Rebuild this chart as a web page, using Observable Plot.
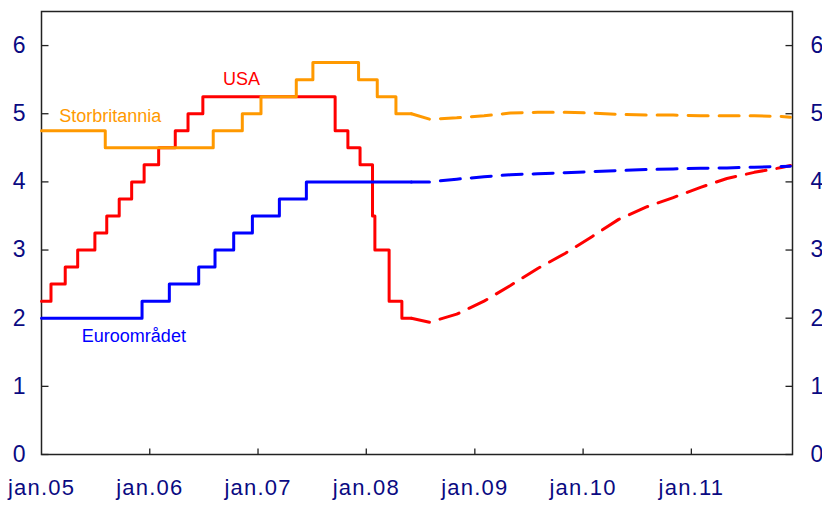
<!DOCTYPE html>
<html>
<head>
<meta charset="utf-8">
<script src="https://cdn.jsdelivr.net/npm/d3@7"></script>
<script src="https://cdn.jsdelivr.net/npm/@observablehq/plot@0.6"></script>
<style>
  html, body { margin: 0; padding: 0; background: #fff; }
  #chart svg { display: block; }
  #chart g[aria-label="x-axis tick label"] text { letter-spacing: 1.2px; }
</style>
</head>
<body>
<div id="chart"></div>
<script>
// ---- Data ----
const usaDates = ["2005-01-01","2005-02-02","2005-03-22","2005-05-03","2005-06-30","2005-08-09","2005-09-20","2005-11-01","2005-12-13","2006-01-31","2006-03-28","2006-05-10","2006-06-29","2007-09-18","2007-10-31","2007-12-11","2008-01-22","2008-01-30","2008-03-18","2008-04-30","2008-06-01"];
const usaRates = [2.25,2.5,2.75,3.0,3.25,3.5,3.75,4.0,4.25,4.5,4.75,5.0,5.25,4.75,4.5,4.25,3.5,3.0,2.25,2.0,2.0];

const ukDates = ["2005-01-01","2005-08-04","2006-08-03","2006-11-09","2007-01-11","2007-05-10","2007-07-05","2007-12-06","2008-02-07","2008-04-10","2008-06-01"];
const ukRates = [4.75,4.5,4.75,5.0,5.25,5.5,5.75,5.5,5.25,5.0,5.0];

const euroDates = ["2005-01-01","2005-12-06","2006-03-08","2006-06-15","2006-08-09","2006-10-11","2006-12-13","2007-03-14","2007-06-13","2008-06-01"];
const euroRates = [2.0,2.25,2.5,2.75,3.0,3.25,3.5,3.75,4.0,4.0];

const forecastDates = ["2008-08-01","2008-11-01","2009-02-01","2009-05-01","2009-08-01","2009-11-01","2010-02-01","2010-05-01","2010-08-01","2010-11-01","2011-02-01","2011-05-01","2011-08-01","2011-11-01","2011-12-01"];
const usaForecast  = [1.94,2.06,2.25,2.48,2.73,2.95,3.20,3.45,3.63,3.77,3.92,4.05,4.14,4.21,4.24];
const ukForecast   = [4.92,4.94,4.97,5.01,5.02,5.02,5.01,4.99,4.98,4.98,4.97,4.97,4.97,4.96,4.95];
const euroForecast = [4.00,4.04,4.075,4.105,4.12,4.135,4.15,4.165,4.18,4.19,4.20,4.205,4.215,4.225,4.23];

const seriesNames  = ["USA","Storbritannia","Euroområdet"];
const labelDates   = ["2006-09-05","2005-03-02","2005-05-17"];
const labelValues  = [5.51, 4.96, 1.73];

const xTickYears = ["2005","2006","2007","2008","2009","2010","2011"];
const yTickValues = [0,1,2,3,4,5,6];

// ---- Build tables ----
const parse = d3.utcParse("%Y-%m-%d");
const toRows = (dates, vals) => dates.map((d, i) => ({date: parse(d), value: vals[i]}));

const colors = {"USA": "#ff0000", "Storbritannia": "#ff9900", "Euroområdet": "#0000ff"};
const series = [
  {name: "USA", actual: toRows(usaDates, usaRates), forecast: toRows(forecastDates, usaForecast)},
  {name: "Storbritannia", actual: toRows(ukDates, ukRates), forecast: toRows(forecastDates, ukForecast)},
  {name: "Euroområdet", actual: toRows(euroDates, euroRates), forecast: toRows(forecastDates, euroForecast)}
];
const labels = seriesNames.map((n, i) => ({name: n, date: parse(labelDates[i]), value: labelValues[i]}));
const xTicks = xTickYears.map(y => d3.utcParse("%Y")(y));
const xDomain = [parse("2005-01-01"), parse("2011-12-08")];

const navy = "#0a0a82";
const axisColor = "#222";
const font = "'Liberation Sans', Arial, sans-serif";

const tickLeft = {draw(ctx) { ctx.moveTo(0, 0); ctx.lineTo(7, 0); }};
const tickRight = {draw(ctx) { ctx.moveTo(0, 0); ctx.lineTo(-7, 0); }};
const tickUp = {draw(ctx) { ctx.moveTo(0, 0); ctx.lineTo(0, -6); }};

const lineMarks = [];
for (const s of series) {
  const c = colors[s.name];
  lineMarks.push(Plot.line(s.actual, {x: "date", y: "value", curve: "step-after", stroke: c, strokeWidth: 3}));
  lineMarks.push(Plot.line([s.actual[s.actual.length - 1], s.forecast[0]], {x: "date", y: "value", stroke: c, strokeWidth: 3}));
  lineMarks.push(Plot.line(s.forecast, {x: "date", y: "value", stroke: c, strokeWidth: 3, strokeDasharray: "20,11", strokeDashoffset: 20}));
}

const chart = Plot.plot({
  width: 822,
  height: 506,
  marginLeft: 41,
  marginRight: 30,
  marginTop: 11,
  marginBottom: 52,
  style: {fontFamily: font, background: "#fff", overflow: "visible"},
  x: {type: "utc", domain: xDomain},
  y: {domain: [0, 6.5]},
  marks: [
    Plot.frame({stroke: axisColor, strokeWidth: 1.5}),
    Plot.axisY(yTickValues, {anchor: "left", label: null, tickSize: 0, tickPadding: 16, fontSize: 23, fill: navy, tickFormat: d => d}),
    Plot.axisY(yTickValues, {anchor: "right", label: null, tickSize: 0, tickPadding: 18, fontSize: 23, fill: navy, tickFormat: d => d, textAnchor: "start"}),
    Plot.axisX(xTicks, {anchor: "bottom", label: null, tickSize: 0, tickPadding: 25, fontSize: 22, fill: navy, tickFormat: d => "jan." + d3.utcFormat("%y")(d)}),
    Plot.dot(yTickValues, {y: d => d, frameAnchor: "left", symbol: tickLeft, stroke: axisColor, fill: "none", strokeWidth: 1.3}),
    Plot.dot(yTickValues, {y: d => d, frameAnchor: "right", symbol: tickRight, stroke: axisColor, fill: "none", strokeWidth: 1.3}),
    Plot.dot(xTicks.slice(1), {x: d => d, frameAnchor: "bottom", symbol: tickUp, stroke: axisColor, fill: "none", strokeWidth: 1.3}),
    ...lineMarks,
    Plot.text(labels, {x: "date", y: "value", text: "name", fill: d => colors[d.name], fontSize: 18, textAnchor: "start"})
  ]
});
document.getElementById("chart").appendChild(chart);
</script>
</body>
</html>
